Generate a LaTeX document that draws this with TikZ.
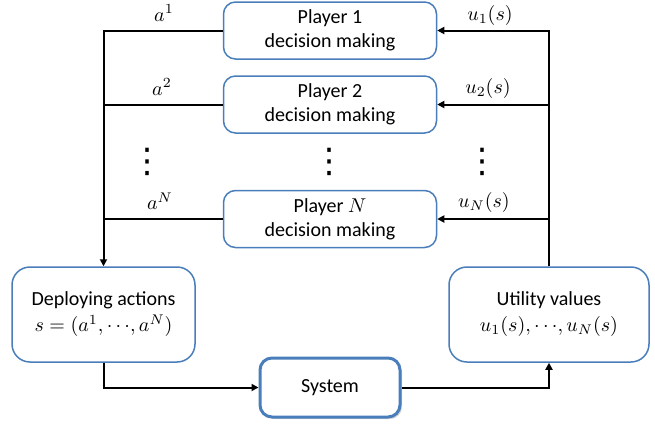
\documentclass[tikz,border=0pt]{standalone}
\usepackage{fontspec}
\setmainfont{Carlito}
\newfontfamily\dotsfont{DejaVu Sans}
\usepackage{xcolor}
\usepackage{tikz}
\usetikzlibrary{positioning,calc,arrows.meta,shadows}

\definecolor{boxblue}{RGB}{74,126,187}

\begin{document}
\begin{tikzpicture}[x=0.5pt,y=-0.5pt,
    player/.style={draw=boxblue,line width=0.75pt,rounded corners=6pt,
        minimum width=106.5pt,minimum height=28.5pt,align=center,inner sep=1pt},
    bigbox/.style={draw=boxblue,line width=0.75pt,rounded corners=9pt,
        minimum height=47.5pt,align=center,inner sep=1pt},
    vdotsnode/.style={font=\dotsfont\fontsize{17}{17}\selectfont,inner sep=0pt},
    flow/.style={line width=1pt,-{Triangle[length=3.5pt,width=3.5pt]}},
    plain/.style={line width=1pt}]
    \useasboundingbox (0,0) rectangle (655,425);

    % Players
    \node[player] (p1) at (330,30.5) {Player 1\\decision making};
    \node[player] (p2) at (330,104.5) {Player 2\\decision making};
    \node[player] (pN) at (330,219) {Player $N$\\decision making};

    % Actions, utilities and system
    \node[bigbox,minimum width=91.5pt] (deploy) at (103.5,314.5)
        {Deploying actions\\[1pt] $s=(a^1,{\cdots},a^N)$};
    \node[bigbox,minimum width=100pt] (util) at (549,314.5)
        {Utility values\\[1pt] $u_1(s),{\cdots},u_N(s)$};
    \node[draw=boxblue,line width=1.5pt,rounded corners=6pt,fill=white,
        minimum width=70pt,minimum height=29.5pt,
        drop shadow={opacity=0.35,shadow xshift=1pt,shadow yshift=-1pt}]
        (sys) at (330,387.5) {System};

    % Dots
    \node[vdotsnode] (dl) at (147,162) {⋮};
    \node[vdotsnode] (dc) at (329,162) {⋮};
    \node[vdotsnode] (dr) at (482,162) {⋮};

    % Actions to the left
    \draw[flow] (p1.west) -| (deploy.north);
    \draw[plain] (p2.west) -- (p2.west -| deploy.north);
    \draw[plain] (pN.west) -- (pN.west -| deploy.north);

    % Utilities from the right
    \draw[flow] (util.north) |- (p1.east);
    \draw[flow] (p2.east -| util.north) -- (p2.east);
    \draw[flow] (pN.east -| util.north) -- (pN.east);

    % Bottom loop
    \draw[flow] (deploy.south) |- (sys.west);
    \draw[flow] (sys.east) -| (util.south);

    % Labels
    \node (la1) at (164,13) {$a^1$};
    \node (la2) at (162,87) {$a^2$};
    \node (laN) at (160,201) {$a^N$};
    \node (lu1) at (490,15) {$u_1(s)$};
    \node (lu2) at (488,88) {$u_2(s)$};
    \node (luN) at (484,202) {$u_N(s)$};
\end{tikzpicture}
\end{document}
